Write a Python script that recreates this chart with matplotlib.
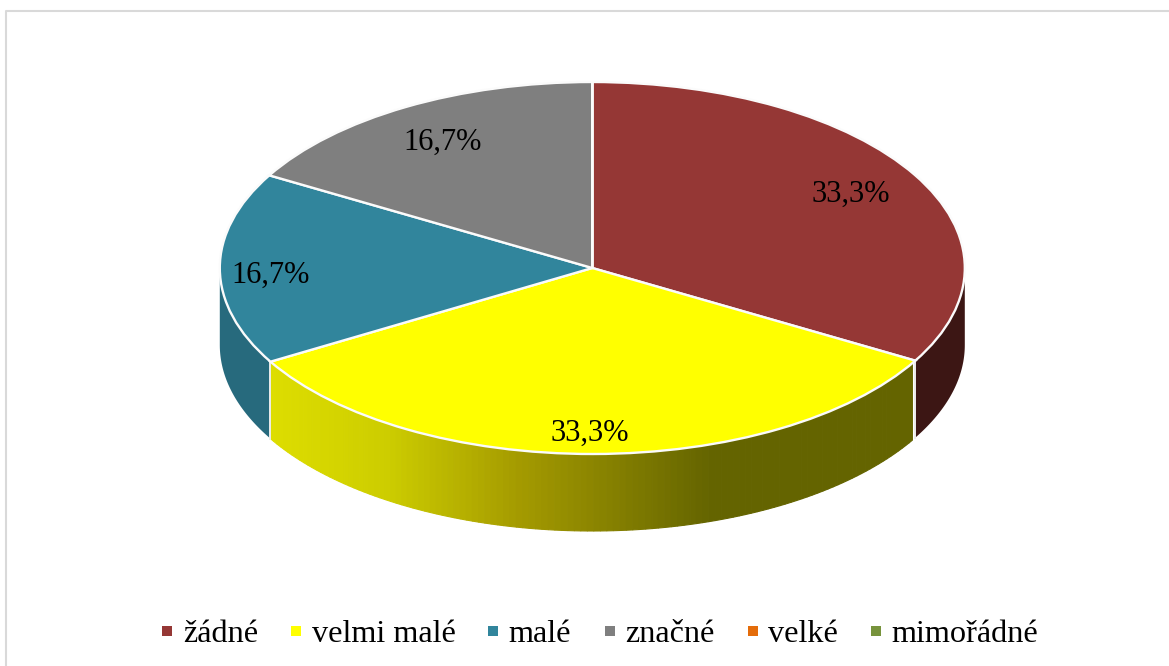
import numpy as np
import matplotlib
matplotlib.use('Agg')
import matplotlib.pyplot as plt
from matplotlib.lines import Line2D
from matplotlib.patches import Polygon, Rectangle

W, H = 1169, 666

categories = ['žádné', 'velmi malé', 'malé', 'značné', 'velké', 'mimořádné']
shares = [33.3, 33.3, 16.7, 16.7, 0, 0]
pct_labels = ['33,3%', '33,3%', '16,7%', '16,7%']
colors = ['#953735', '#ffff00', '#31859c', '#7f7f7f', '#e46c0a', '#77933c']
side_colors = ['#3c1614', None, '#276a7d', '#666666']

# pie geometry in pixels
cx, cy = 592.3, 268
rx, ry = 372.5, 186
depth = 77

plt.rcParams['font.family'] = ['Liberation Serif', 'DejaVu Serif']

fig = plt.figure(figsize=(W / 100, H / 100), dpi=100, facecolor='white')
ax = fig.add_axes([0, 0, 1, 1])


def wall(a0, a1, color):
    # a in degrees clockwise from 12 o'clock, pie units (radius 1)
    t = np.radians(np.linspace(a0, a1, 60))
    x, y = np.sin(t), np.cos(t)
    d = depth / ry
    pts = np.r_[np.c_[x, y], np.c_[x[::-1], y[::-1] - d]]
    ax.add_patch(Polygon(pts, closed=True, fc=color, ec='none', zorder=1))


def wall_edge(a):
    t = np.radians(a)
    x, y = np.sin(t), np.cos(t)
    ax.plot([x, x], [y, y - depth / ry], color='#ececec', lw=1.4, zorder=2)


vals = np.array(shares, dtype=float)
ends = np.cumsum(vals) / vals.sum() * 360
starts = np.r_[0, ends[:-1]]

# side walls, only the part facing the viewer (90..270 deg)
wall(90, ends[0], side_colors[0])
wall(ends[1], 270, side_colors[2])

# yellow wall with the gradient, light on the left to dark on the right
a0, a1 = starts[1], ends[1]
stops_x = [-0.87, -0.55, -0.2, 0.32, 0.87]
stops_c = np.array([[222, 222, 0], [205, 205, 0], [165, 155, 0], [100, 100, 0], [100, 100, 0]]) / 255
for i in range(int(a1 - a0)):
    t0, t1 = np.radians(a1 - i), np.radians(max(a1 - i - 1, a0))
    xm = (np.sin(t0) + np.sin(t1)) / 2
    c = [np.interp(xm, stops_x, stops_c[:, k]) for k in range(3)]
    tt = np.linspace(t0, t1, 3)
    x, y = np.sin(tt), np.cos(tt)
    pts = np.r_[np.c_[x, y], np.c_[x[::-1], y[::-1] - depth / ry]]
    ax.add_patch(Polygon(pts, closed=True, fc=c, ec=c, lw=0.8, zorder=1))

wall_edge(ends[0])
wall_edge(ends[1])

wedges, _ = ax.pie(vals, colors=colors, startangle=90, counterclock=False, radius=1,
                   wedgeprops={'edgecolor': '#fbfbfb', 'linewidth': 1.7, 'zorder': 3})

# 1 unit = rx px across, ry px down, so the round pie is drawn flattened
ax.set_aspect('auto')
ax.set_xlim(-cx / rx, (W - cx) / rx)
ax.set_ylim((cy - H) / ry, cy / ry)
ax.axis('off')

# percentage labels
label_px = [(850.5, 194), (590, 433), (270.5, 275), (443, 142)]
for txt, (px, py) in zip(pct_labels, label_px):
    ax.text((px - cx) / rx, (cy - py) / ry, txt, ha='center', va='center',
            fontsize=22, color='black', zorder=5)

# chart border, only top and left are inside the crop
fig.add_artist(Line2D([5.5 / W, 5.5 / W, 1], [0, 1 - 10.5 / H, 1 - 10.5 / H], transform=fig.transFigure,
                      color='#d9d9d9', lw=1.5))

# legend, placed by hand like the office one
leg_sq = [162, 291, 488, 605, 748, 871]
leg_tx = [183, 312, 508, 625, 768, 891]
for name, col, sx, tx in zip(categories, colors, leg_sq, leg_tx):
    fig.add_artist(Rectangle((sx / W, 1 - 636 / H), 10 / W, 10 / H, transform=fig.transFigure,
                             fc=col, ec='none'))
    fig.text(tx / W, 1 - 634 / H, name, ha='left', va='center', fontsize=23.2, color='black')

fig.savefig('out.png', dpi=100)
